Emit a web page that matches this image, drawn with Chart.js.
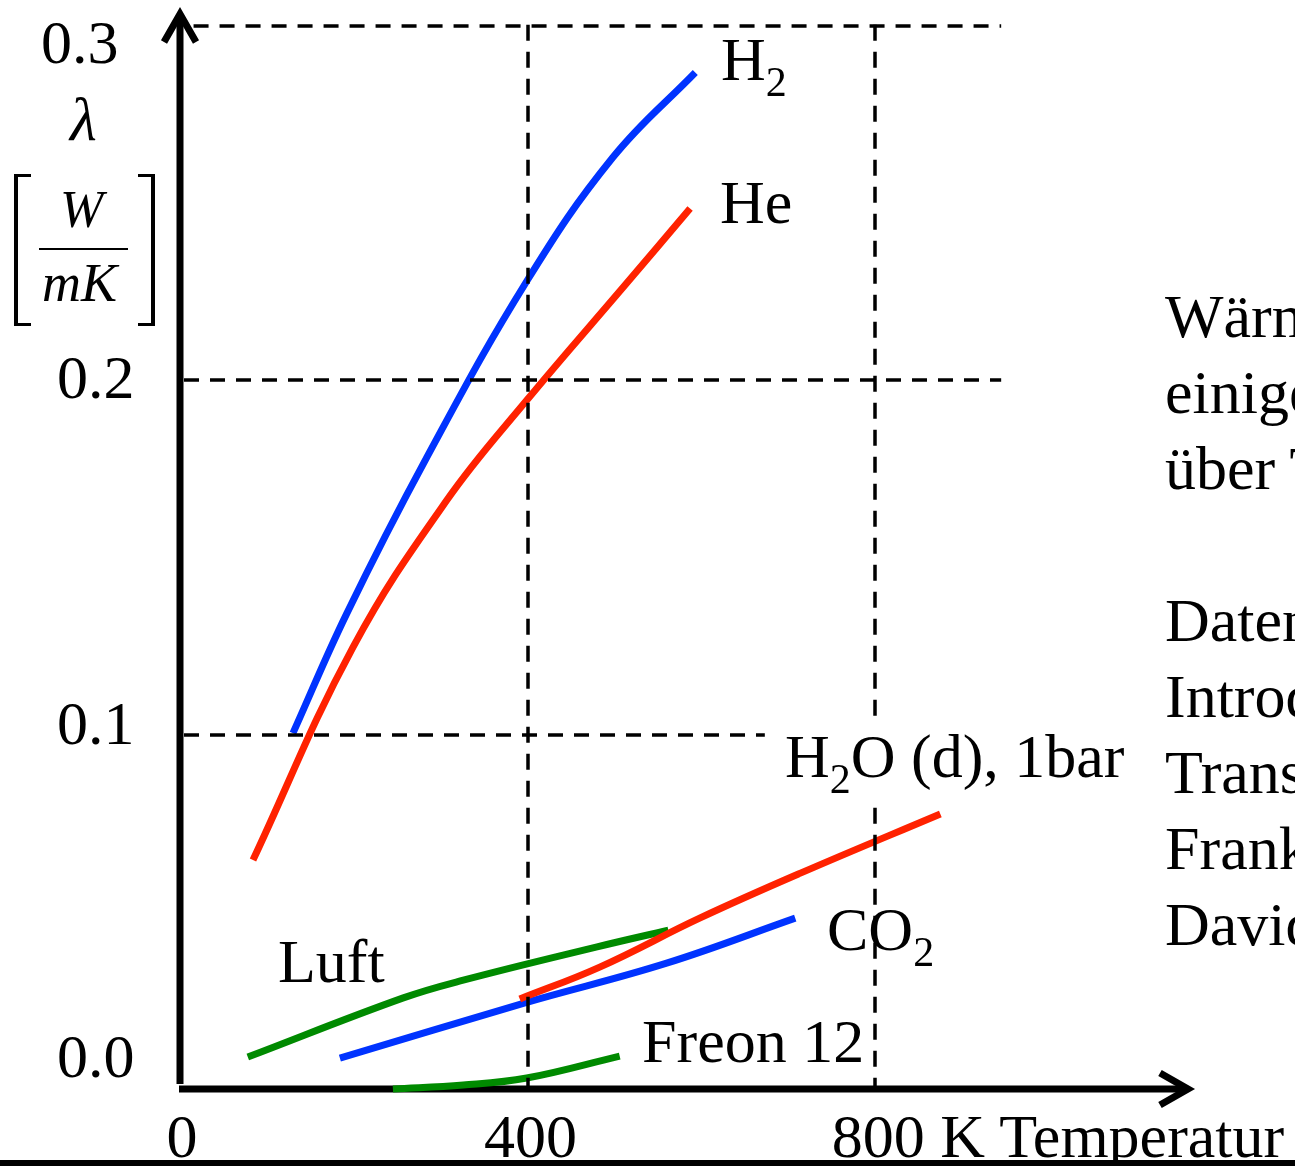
<!DOCTYPE html>
<html lang="de">
<head>
<meta charset="utf-8">
<title>Wärmeleitfähigkeit einiger Gase über Temperatur</title>
<script src="https://cdn.jsdelivr.net/npm/chart.js@4.4.1/dist/chart.umd.min.js"></script>
<style>
  html, body { margin: 0; padding: 0; background: #fff; }
  body {
    width: 1295px; height: 1166px; position: relative; overflow: hidden;
    font-family: "Liberation Serif", "Times New Roman", serif; color: #000;
  }
  #chart { position: absolute; left: 0; top: 0; }
  .txt { position: absolute; white-space: nowrap; line-height: 1; font-size: 62px; }
  .txt sub { font-size: 42px; vertical-align: baseline; position: relative; top: 16px; }
  .it { font-style: italic; }
  .bg { background: #fff; padding: 0 4px 12px 4px; }
  .bracket { position: absolute; border: 3px solid #000; }
  #note {
    position: absolute; left: 1165px; top: 278px; width: 130px; overflow: hidden;
    font-size: 62px; line-height: 76px; white-space: nowrap;
  }
  #bottomLine { position: absolute; left: 0; top: 1160px; width: 1295px; height: 6px; background: #000; }
</style>
</head>
<body>
<canvas id="chart" width="1295" height="1166"></canvas>
<div id="labels"></div>
<div id="note">Wärmeleitfähigkeit<br>einiger Gase<br>über Temperatur<br>&nbsp;<br>Daten aus:<br>Introduction to Heat<br>Transfer,<br>Frank P. Incropera,<br>David P. DeWitt</div>
<div id="bottomLine"></div>
<script>
// Temperatur in K, Wärmeleitfähigkeit lambda in W/(m K)
const tempH2 = [130, 192, 284, 399, 498, 593];
const lambdaH2 = [0.1004, 0.1342, 0.1782, 0.2279, 0.2628, 0.2868];

const tempHe = [84, 199, 307, 399, 510, 587];
const lambdaHe = [0.0646, 0.1246, 0.1661, 0.1943, 0.2262, 0.2484];

const tempH2O = [391, 483, 598, 714, 875];
const lambdaH2O = [0.0254, 0.0344, 0.0482, 0.0609, 0.0776];

const tempCO2 = [184, 397, 560, 708];
const lambdaCO2 = [0.0087, 0.0243, 0.0355, 0.0482];

const tempLuft = [78, 257, 326, 480, 562];
const lambdaLuft = [0.0090, 0.0257, 0.0307, 0.0401, 0.0448];

const tempFreon = [245, 326, 399, 506];
const lambdaFreon = [0.0000, 0.0011, 0.0031, 0.0093];

// Achsen
const xTicks = [0, 400, 800];
const xTickLabels = ["0", "400", "800 K Temperatur"];
const yTicks = [0, 0.1, 0.2, 0.3];
const yTickLabels = ["0.0", "0.1", "0.2", "0.3"];
const xGrid = [400, 800];
const yGrid = [0.1, 0.2, 0.3];

const blue = "#0033ff";
const red = "#ff2200";
const green = "#008a00";

function toPoints(xs, ys) {
    return xs.map((x, i) => ({ x: x, y: ys[i] }));
}

function series(label, xs, ys, color) {
    return {
        label: label,
        data: toPoints(xs, ys),
        borderColor: color,
        borderWidth: 7,
        pointRadius: 0,
        tension: 0.4,
        clip: false,
        fill: false
    };
}

// Pfeile, Achsen und gestrichelte Hilfslinien
const guides = {
    id: "guides",
    beforeDatasetsDraw(chart) {
        const { ctx, chartArea: a, scales: { x, y } } = chart;
        const x0 = x.getPixelForValue(0);
        const y0 = y.getPixelForValue(0);
        ctx.save();
        ctx.strokeStyle = "#000";
        ctx.lineWidth = 7;
        ctx.lineCap = "butt";
        ctx.lineJoin = "miter";
        // y-Achse
        ctx.beginPath();
        ctx.moveTo(x0, y0 - 5);
        ctx.lineTo(x0, a.top + 6);
        ctx.stroke();
        ctx.beginPath();
        ctx.moveTo(x0 - 16, a.top + 34);
        ctx.lineTo(x0, a.top + 6);
        ctx.lineTo(x0 + 16, a.top + 34);
        ctx.stroke();
        // x-Achse
        ctx.beginPath();
        ctx.moveTo(x0 - 1, y0);
        ctx.lineTo(a.right, y0);
        ctx.stroke();
        ctx.beginPath();
        ctx.moveTo(a.right - 28, y0 - 16);
        ctx.lineTo(a.right, y0);
        ctx.lineTo(a.right - 28, y0 + 16);
        ctx.stroke();
        ctx.restore();
    },
    afterDatasetsDraw(chart) {
        const { ctx, scales: { x, y } } = chart;
        // Anfang und Ende der waagrechten Linien (in K)
        const hStart = [0, 0, 11];
        const hEnd = [673, 945, 945];
        ctx.save();
        ctx.strokeStyle = "#000";
        ctx.lineWidth = 3.5;
        ctx.setLineDash([15, 11]);
        yGrid.forEach((v, i) => {
            const py = Math.round(y.getPixelForValue(v));
            ctx.beginPath();
            ctx.moveTo(x.getPixelForValue(hStart[i]) + 4, py);
            ctx.lineTo(x.getPixelForValue(hEnd[i]), py);
            ctx.stroke();
        });
        ctx.setLineDash([16, 11]);
        xGrid.forEach((v) => {
            const px = Math.round(x.getPixelForValue(v));
            ctx.beginPath();
            ctx.moveTo(px, y.getPixelForValue(0.3) - 1);
            ctx.lineTo(px, y.getPixelForValue(0) - 3);
            ctx.stroke();
        });
        ctx.restore();
    }
};

const chart = new Chart(document.getElementById("chart"), {
    type: "line",
    data: {
        datasets: [
            series("H2", tempH2, lambdaH2, blue),
            series("He", tempHe, lambdaHe, red),
            series("H2O (d), 1bar", tempH2O, lambdaH2O, red),
            series("CO2", tempCO2, lambdaCO2, blue),
            series("Luft", tempLuft, lambdaLuft, green),
            series("Freon 12", tempFreon, lambdaFreon, green)
        ]
    },
    options: {
        responsive: false,
        animation: false,
        layout: { padding: { left: 180, right: 107, top: 8, bottom: 77 } },
        plugins: { legend: { display: false }, tooltip: { enabled: false } },
        scales: {
            x: { type: "linear", min: 0, max: 1160, display: false },
            y: { type: "linear", min: 0, max: 0.305, display: false }
        }
    },
    plugins: [guides]
});

// Texte als HTML ueber dem Canvas
const labels = document.getElementById("labels");
function put(html, left, baseline, size, cls) {
    const d = document.createElement("div");
    d.className = "txt" + (cls ? " " + cls : "");
    d.style.fontSize = size + "px";
    d.style.left = left + "px";
    d.style.top = (baseline - 0.8375 * size) + "px";
    d.innerHTML = html;
    labels.appendChild(d);
    return d;
}

// y-Beschriftung
const yLabelPos = [[57, 1077], [57, 744], [57, 398], [41, 63]];
yTickLabels.forEach((t, i) => put(t, yLabelPos[i][0], yLabelPos[i][1], 62));

// x-Beschriftung
const xs = chart.scales.x;
xTickLabels.forEach((t, i) => {
    const px = xs.getPixelForValue(xTicks[i]);
    const d = put(t, 0, 1157, 62);
    const numW = i === 2 ? 93 : d.getBoundingClientRect().width;
    d.style.left = (px + (i === 0 ? 2 : 3) - numW / 2) + "px";
});

// Einheit
put("λ", 70, 140, 62, "it");
put("W", 60, 228, 52, "it");
put("mK", 42, 301, 54, "it");
const frac = document.createElement("div");
frac.style.cssText = "position:absolute;left:39px;top:248px;width:89px;height:2px;background:#000;";
labels.appendChild(frac);
const lb = document.createElement("div");
lb.className = "bracket";
lb.style.cssText += "left:14px;top:174px;width:13px;height:146px;border-right:none;border-left-width:4px;";
labels.appendChild(lb);
const rb = document.createElement("div");
rb.className = "bracket";
rb.style.cssText += "left:138px;top:174px;width:13px;height:146px;border-left:none;border-right-width:4px;";
labels.appendChild(rb);

// Kurvenbeschriftung
put("H<sub>2</sub>", 721, 80, 62);
put("He", 720, 223, 62);
put("H<sub>2</sub>O (d), 1bar", 781, 777, 62, "bg");
put("CO<sub>2</sub>", 827, 950, 62);
put("Luft", 278, 982, 62);
put("Freon 12", 642, 1062, 62);
</script>
</body>
</html>
